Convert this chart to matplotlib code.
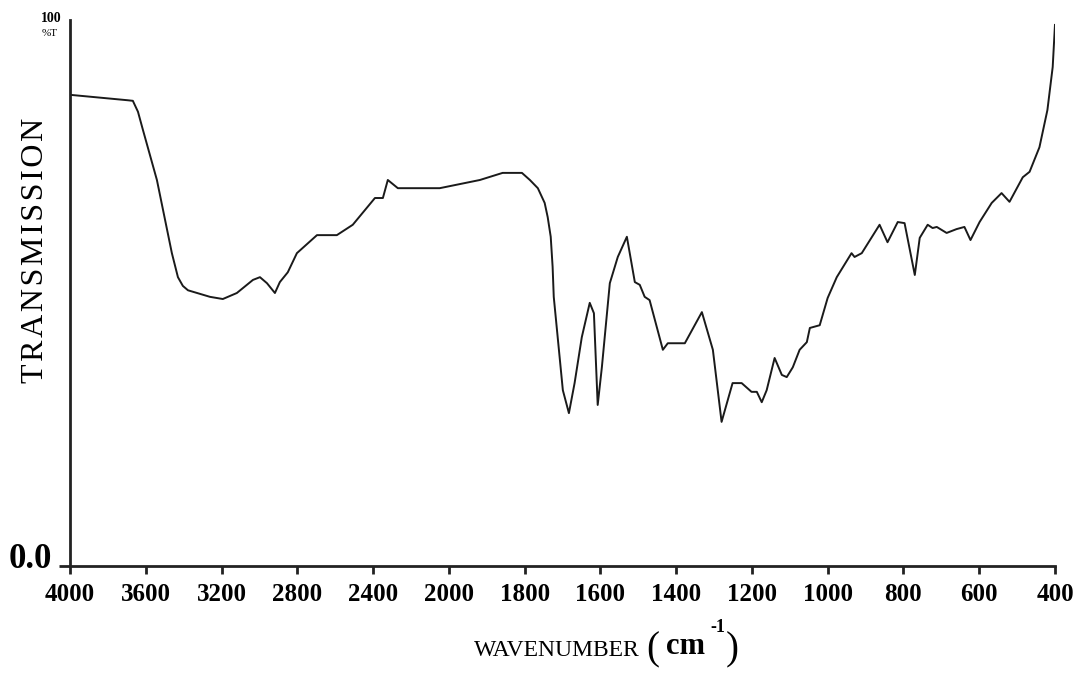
import matplotlib.pyplot as plt
import numpy as np

# IR spectrum (wavenumber cm-1, %T)
wavenumber = [4000, 3694, 3668, 3641, 3615, 3541, 3462, 3430, 3404, 3377,
              3261, 3193, 3119, 3034, 2997, 2960, 2918, 2892, 2850, 2802,
              2696, 2591, 2507, 2390, 2348, 2322, 2269, 2048, 1918, 1858,
              1807, 1786, 1765, 1747, 1739, 1731, 1726, 1723, 1699, 1683,
              1668, 1649, 1628, 1617, 1607, 1596, 1575, 1554, 1530, 1509,
              1496, 1483, 1470, 1435, 1422, 1377, 1332, 1303, 1280, 1251,
              1227, 1201, 1187, 1174, 1161, 1140, 1121, 1108, 1092, 1074,
              1055, 1047, 1021, 1000, 976, 937, 929, 910, 863, 842,
              815, 797, 770, 757, 736, 723, 712, 686, 660, 639,
              623, 599, 567, 541, 520, 485, 467, 441, 420, 406,
              400]
transmission = [86.3, 85.3, 85.2, 83.2, 79.9, 70.7, 57.3, 52.9, 51.3, 50.5,
                49.3, 48.9, 50.0, 52.4, 52.9, 51.8, 50.0, 52.0, 53.8, 57.3,
                60.6, 60.6, 62.5, 67.4, 67.4, 70.7, 69.2, 69.2, 70.7, 72.0,
                72.0, 70.7, 69.2, 66.5, 63.9, 60.3, 54.8, 49.3, 32.2, 28.0,
                33.5, 41.9, 48.2, 46.3, 29.5, 36.4, 51.8, 56.6, 60.3, 52.0,
                51.5, 49.3, 48.7, 39.6, 40.8, 40.8, 46.5, 39.6, 26.4, 33.5,
                33.5, 31.9, 31.9, 30.0, 32.2, 38.1, 35.0, 34.6, 36.4, 39.6,
                41.0, 43.6, 44.1, 49.1, 52.9, 57.3, 56.6, 57.3, 62.5, 59.3,
                63.0, 62.8, 53.3, 60.1, 62.5, 61.9, 62.1, 61.0, 61.7, 62.1,
                59.7, 63.0, 66.5, 68.3, 66.7, 71.2, 72.2, 76.7, 83.5, 91.4,
                99.1]

xticks = [4000, 3600, 3200, 2800, 2400, 2000, 1800, 1600, 1400, 1200,
          1000, 800, 600, 400]

serif = 'Liberation Serif'


# instrument scale: 2x expansion below 2000 cm-1
def fwd(w):
    w = np.asarray(w, dtype=float)
    return np.where(w >= 2000, w, 2000 - (2000 - w) * 2)


def inv(u):
    u = np.asarray(u, dtype=float)
    return np.where(u >= 2000, u, 2000 - (2000 - u) / 2)


fig = plt.figure(figsize=(10.73, 6.76), dpi=100)
ax = fig.add_axes([0.0652, 0.1627, 0.918, 0.8077])

ax.plot(wavenumber, transmission, color='#1a1a1a', lw=1.4)

ax.set_xscale('function', functions=(fwd, inv))
ax.set_xlim(4000, 400)
ax.set_ylim(0, 100)

ax.spines['top'].set_visible(False)
ax.spines['right'].set_visible(False)
for s in ('left', 'bottom'):
    ax.spines[s].set_linewidth(2)
    ax.spines[s].set_color('#222222')

ax.set_xticks(xticks)
ax.set_xticklabels([str(t) for t in xticks], fontfamily=serif,
                   fontsize=18, fontweight='bold')
ax.xaxis.set_minor_locator(plt.NullLocator())
ax.tick_params(axis='x', direction='out', length=6, width=2, pad=6,
               color='#222222')
ax.set_yticks([0])
ax.set_yticklabels([''])
ax.tick_params(axis='y', direction='out', length=8, width=2, color='#222222')

fig.text(0.028, 1 - 559 / 676, '0.0', fontfamily=serif, fontsize=25,
         fontweight='bold', ha='center', va='center')
fig.text(0.048, 1 - 18 / 676, '100', fontfamily=serif, fontsize=10,
         fontweight='bold', ha='center', va='center')
fig.text(0.046, 1 - 33 / 676, '%T', fontfamily=serif, fontsize=8,
         ha='center', va='center')

ylab = '\u200a'.join('TRANSMISSION')
fig.text(0.033, 1 - 250 / 676, ylab, fontfamily=[serif, 'DejaVu Sans'],
         fontsize=23, rotation=90, ha='center', va='center')

fig.text(0.519, 1 - 651 / 676, 'WAVENUMBER', fontfamily=serif, fontsize=17,
         ha='center', va='center')
fig.text(0.602, 1 - 650 / 676, '(', fontfamily=serif, fontsize=28,
         ha='left', va='center')
fig.text(0.621, 1 - 647 / 676, 'cm', fontfamily=serif, fontsize=22,
         fontweight='bold', ha='left', va='center')
fig.text(0.662, 1 - 627 / 676, '-1', fontfamily=serif, fontsize=13,
         fontweight='bold', ha='left', va='center')
fig.text(0.676, 1 - 650 / 676, ')', fontfamily=serif, fontsize=28,
         ha='left', va='center')

fig.savefig('out.png', dpi=100)
